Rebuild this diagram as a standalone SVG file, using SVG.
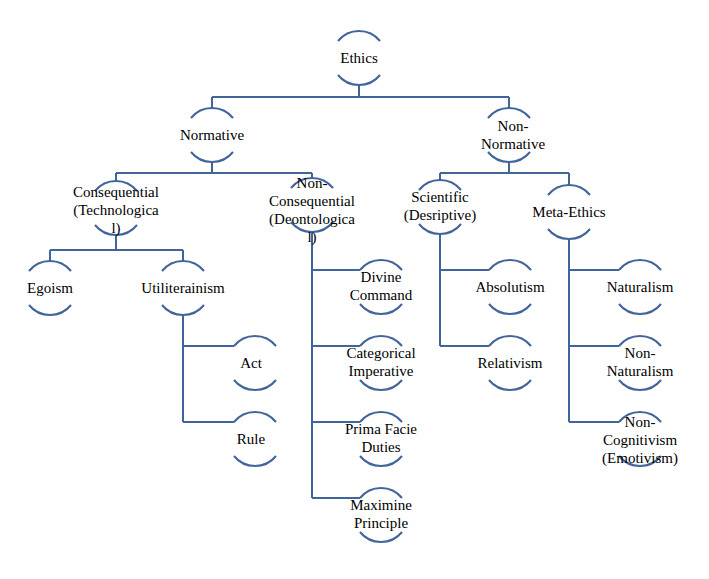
<svg xmlns="http://www.w3.org/2000/svg" width="709" height="579" viewBox="0 0 709 579">
<style>
.a{fill:none;stroke:#41659a;stroke-width:2}
.c{fill:none;stroke:#41659a;stroke-width:2}
text{font-family:"Liberation Serif",serif;font-size:15px;fill:#000;text-anchor:middle}
</style>
<defs>
<path id="n" class="a" d="M-21,-17 A27,27 0 0 1 21,-17 M-21,17 A27,27 0 0 0 21,17"/>
</defs>
<rect width="709" height="579" fill="#fff"/>
<g id="connectors" class="c">
<path d="M359,85V97M212,97H509M212,97V108M509,97V108"/>
<path d="M212,162V173M116,173H312M116,173V181M312,173V178"/>
<path d="M116,235V250M50,250H183M50,250V261M183,250V261"/>
<path d="M183,315V422M183,346H234M183,422H234"/>
<path d="M312,232V498M312,270H360M312,346H360M312,422H360M312,498H360"/>
<path d="M509,162V173M440,173H569M440,173V180M569,173V185"/>
<path d="M440,234V346M440,270H489M440,346H489"/>
<path d="M569,239V422M569,270H619M569,346H619M569,422H619"/>
</g>
<g id="ethics"><use href="#n" x="359" y="58"/><text x="359" y="63">Ethics</text></g>
<g id="normative"><use href="#n" x="212" y="135"/><text x="212" y="140">Normative</text></g>
<g id="nonnormative"><use href="#n" x="509" y="135"/><text x="513" y="131">Non-</text><text x="513" y="149">Normative</text></g>
<g id="consequential"><use href="#n" x="116" y="208"/><text x="116" y="197">Consequential</text><text x="116" y="215">(Technologica</text><text x="116" y="233">l)</text></g>
<g id="nonconsequential"><use href="#n" x="312" y="205"/><text x="312" y="188">Non-</text><text x="312" y="206">Consequential</text><text x="312" y="224">(Deontologica</text><text x="312" y="242">l)</text></g>
<g id="scientific"><use href="#n" x="440" y="207"/><text x="440" y="202">Scientific</text><text x="440" y="220">(Desriptive)</text></g>
<g id="metaethics"><use href="#n" x="569" y="212"/><text x="569" y="217">Meta-Ethics</text></g>
<g id="egoism"><use href="#n" x="50" y="288"/><text x="50" y="293">Egoism</text></g>
<g id="util"><use href="#n" x="183" y="288"/><text x="183" y="293">Utiliterainism</text></g>
<g id="act"><use href="#n" x="255" y="363"/><text x="251" y="368">Act</text></g>
<g id="rule"><use href="#n" x="255" y="439"/><text x="251" y="444">Rule</text></g>
<g id="divine"><use href="#n" x="381" y="287"/><text x="381" y="282">Divine</text><text x="381" y="300">Command</text></g>
<g id="categorical"><use href="#n" x="381" y="363"/><text x="381" y="358">Categorical</text><text x="381" y="376">Imperative</text></g>
<g id="prima"><use href="#n" x="381" y="439"/><text x="381" y="434">Prima Facie</text><text x="381" y="452">Duties</text></g>
<g id="maximine"><use href="#n" x="381" y="515"/><text x="381" y="510">Maximine</text><text x="381" y="528">Principle</text></g>
<g id="absolutism"><use href="#n" x="510" y="287"/><text x="510" y="292">Absolutism</text></g>
<g id="relativism"><use href="#n" x="510" y="363"/><text x="510" y="368">Relativism</text></g>
<g id="naturalism"><use href="#n" x="640" y="287"/><text x="640" y="292">Naturalism</text></g>
<g id="nonnaturalism"><use href="#n" x="640" y="363"/><text x="640" y="358">Non-</text><text x="640" y="376">Naturalism</text></g>
<g id="noncognitivism"><use href="#n" x="640" y="439"/><text x="640" y="427">Non-</text><text x="640" y="445">Cognitivism</text><text x="640" y="463">(Emotivism)</text></g>
</svg>
